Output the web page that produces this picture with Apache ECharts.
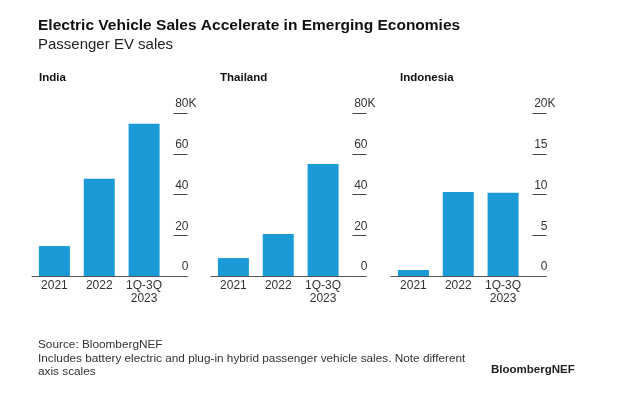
<!DOCTYPE html>
<html><head><meta charset="utf-8">
<script src="https://cdn.jsdelivr.net/npm/echarts@6/dist/echarts.min.js"></script>
<style>html,body{margin:0;padding:0;background:#fff}#c{width:640px;height:405px}</style>
</head><body><div id="c"></div>
<script>
const categories = ['2021', '2022', '1Q-3Q\n2023'];
const countries = ['India', 'Thailand', 'Indonesia'];
const indiaSales = [14700, 47700, 74700];
const thailandSales = [8800, 20600, 55000];
const indonesiaSales = [740, 10300, 10200];
const axisMax = [80000, 80000, 20000];
const axisStep = [20000, 20000, 5000];
const seriesData = [indiaSales, thailandSales, indonesiaSales];

const FONT = 'Liberation Sans, Arial, sans-serif';
const BLUE = '#1a9bd7';
const TXT = '#333';
const gridLeft = [32, 211, 391];
const bandW = 134.5;

const chart = echarts.init(document.getElementById('c'));
const grids = [], xAxes = [], yAxes = [], series = [];
countries.forEach((name, i) => {
  grids.push({left: gridLeft[i], width: bandW, top: 113, bottom: 129});
  xAxes.push({
    type: 'category', gridIndex: i, data: categories,
    axisLine: {lineStyle: {color: '#555', width: 1}},
    axisTick: {show: false},
    axisLabel: {color: TXT, fontFamily: FONT, fontSize: 12, margin: 3, lineHeight: 13, interval: 0}
  });
  yAxes.push({
    type: 'value', gridIndex: i, position: 'right', offset: 7,
    min: 0, max: axisMax[i], interval: axisStep[i],
    splitLine: {show: false}, axisLine: {show: false},
    axisTick: {show: true, inside: false, length: 14, lineStyle: {color: '#444', width: 1}},
    axisLabel: {
      margin: 23, align: 'right', verticalAlign: 'bottom', padding: [0, 0, 3, 0],
      fontFamily: FONT, fontSize: 12, color: TXT,
      formatter: v => (v / 1000) + (v === axisMax[i] ? '{k|K}' : '{h|K}'),
      rich: {k: {fontFamily: FONT, fontSize: 12, color: TXT}, h: {fontFamily: FONT, fontSize: 12, color: 'rgba(0,0,0,0)'}}
    }
  });
  yAxes.push({
    type: 'value', gridIndex: i, position: 'right', offset: 0,
    min: 0, max: axisMax[i], interval: axisStep[i],
    splitLine: {show: false}, axisLine: {show: false}, axisLabel: {show: false},
    axisTick: {show: true, inside: false, length: 21, customValues: [0], lineStyle: {color: '#555', width: 1}}
  });
  series.push({
    type: 'bar', xAxisIndex: i, yAxisIndex: i * 2, data: seriesData[i],
    barWidth: 31, itemStyle: {color: BLUE}, silent: true
  });
});

const titles = [
  {text: 'Electric Vehicle Sales Accelerate in Emerging Economies', left: 38, top: 18, padding: 0,
   textStyle: {fontFamily: FONT, fontSize: 15.5, fontWeight: 'bold', color: '#111'}},
  {text: 'Passenger EV sales', left: 38, top: 37, padding: 0,
   textStyle: {fontFamily: FONT, fontSize: 15, fontWeight: 'normal', color: '#222'}},
  {text: 'Source: BloombergNEF\nIncludes battery electric and plug-in hybrid passenger vehicle sales. Note different\naxis scales',
   left: 38, top: 338, padding: 0,
   textStyle: {fontFamily: FONT, fontSize: 11.8, fontWeight: 'normal', color: '#333', lineHeight: 13.5}},
  {text: 'BloombergNEF', left: 491, top: 364, padding: 0,
   textStyle: {fontFamily: FONT, fontSize: 11.5, fontWeight: 'bold', color: '#222'}}
];
countries.forEach((name, i) => {
  titles.push({text: name, left: [39, 220, 400][i], top: 72, padding: 0,
    textStyle: {fontFamily: FONT, fontSize: 11.5, fontWeight: 'bold', color: '#111'}});
});

chart.setOption({
  animation: false, backgroundColor: '#fff',
  title: titles, grid: grids, xAxis: xAxes, yAxis: yAxes, series: series
});
</script></body></html>
